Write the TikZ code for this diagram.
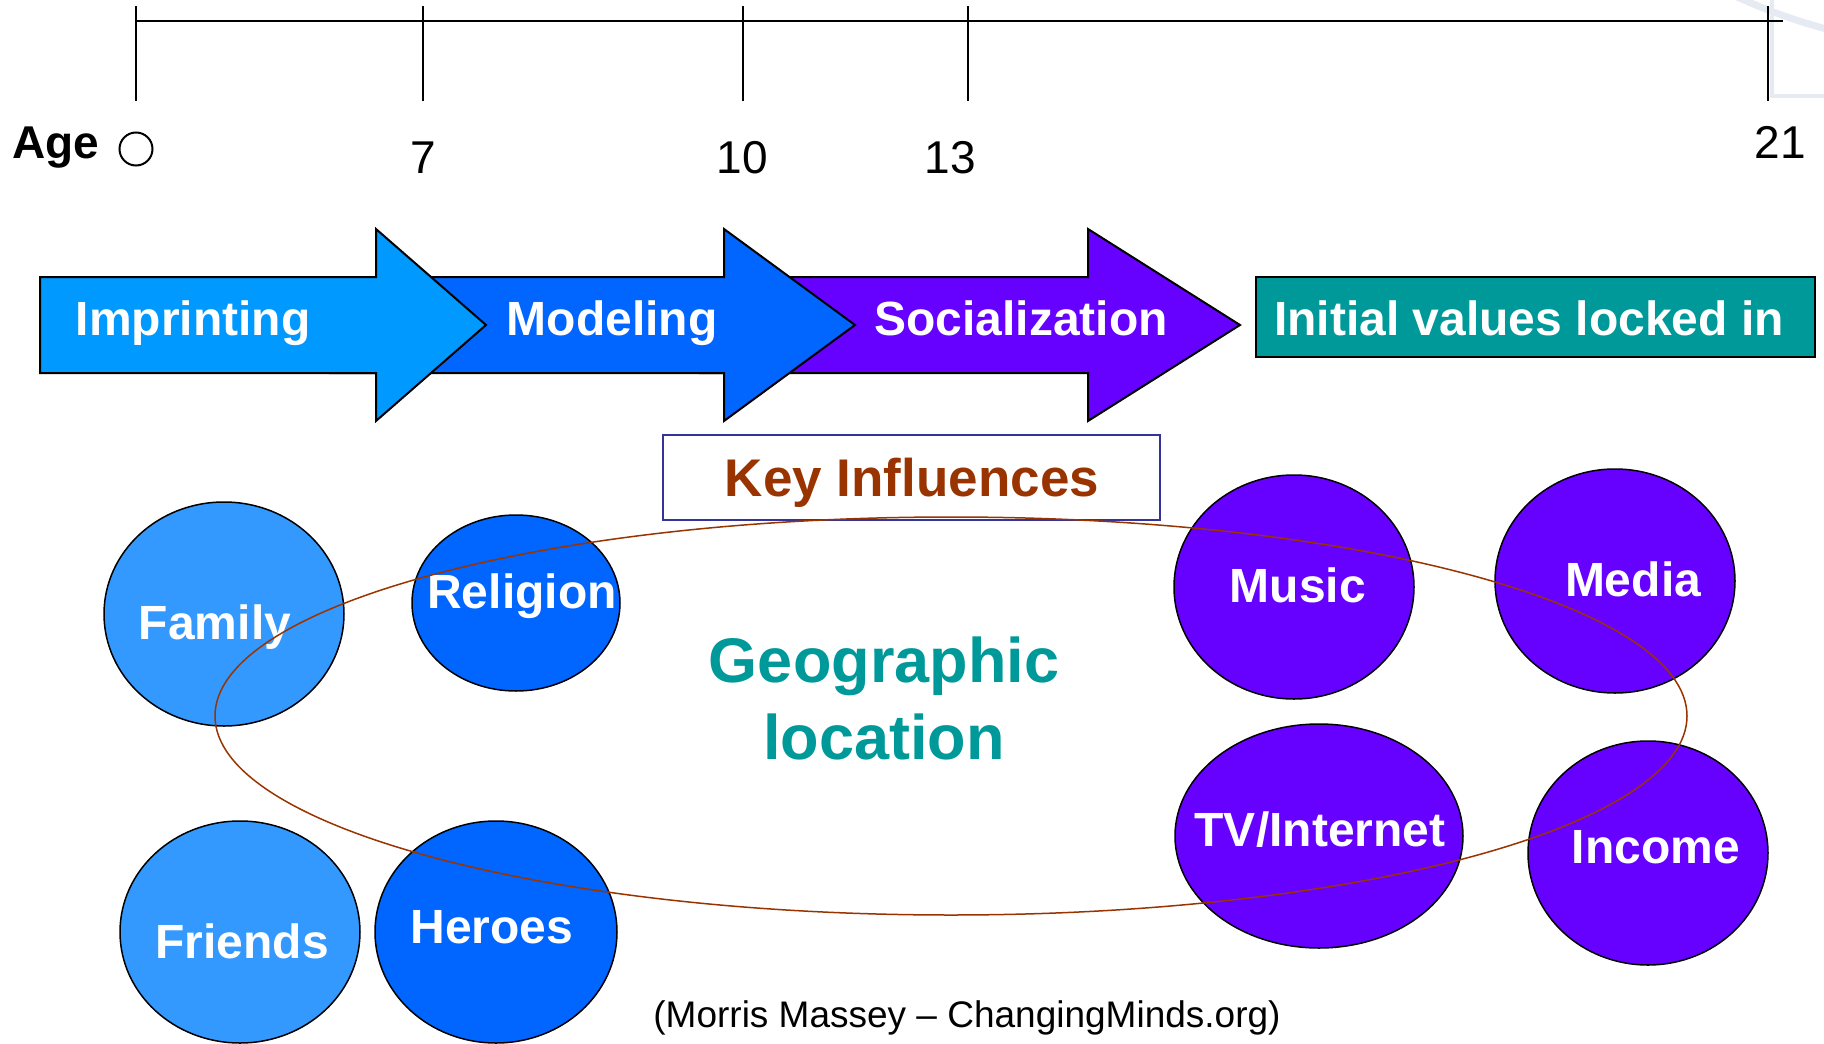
\documentclass[tikz,border=0pt]{standalone}
\usepackage{fontspec}
\setmainfont{Liberation Sans}
\definecolor{imprintblue}{HTML}{0099FF}
\definecolor{modelblue}{HTML}{0066FF}
\definecolor{socialviolet}{HTML}{6600FF}
\definecolor{lockteal}{HTML}{009999}
\definecolor{keybrown}{HTML}{993300}
\definecolor{keyframe}{HTML}{333399}
\definecolor{softblue}{HTML}{3399FF}
\definecolor{faintdeco}{HTML}{E6EAF3}
\begin{document}
\begin{tikzpicture}[x=1pt,y=-1pt,
  tick/.style={line width=2pt,black},
  stagearrow/.style={draw=black,line width=2pt,line join=miter},
  stagetext/.style={text=white,font=\fontsize{48}{56}\selectfont\bfseries,anchor=base,inner sep=0pt},
  bubble/.style={draw=black,line width=1.5pt},
  bubbletext/.style={text=white,font=\fontsize{48}{56}\selectfont\bfseries,anchor=base,inner sep=0pt},
  agetext/.style={font=\fontsize{46}{54}\selectfont,anchor=base,inner sep=0pt}]
\useasboundingbox (0,0) rectangle (1824,1044);
\clip (0,0) rectangle (1824,1044);

% faint template decoration in the upper right corner
\draw[faintdeco,line width=7pt] (1735,-4) .. controls (1770,12) and (1800,22) .. (1830,30);
\draw[faintdeco,line width=4pt] (1772,0) -- (1772,96) -- (1830,96);

% age timeline
\draw[tick] (136,21) -- (1783,21);
\foreach \tx in {136,423,743,968,1768}
  \draw[tick] (\tx,6) -- (\tx,101);
\node[agetext,font=\fontsize{46}{54}\selectfont\bfseries] (agelabel) at (56,158) {Age};
\draw[line width=2pt] (136,149) circle (16.5);
\node[agetext] (age7) at (423,173) {7};
\node[agetext] (age10) at (742,173) {10};
\node[agetext] (age13) at (950,173) {13};
\node[agetext] (age21) at (1780,158) {21};

% developmental stages as block arrows (later stages lie underneath)
\filldraw[stagearrow,fill=socialviolet]
  (700,277) -- (1088,277) -- (1088,229) -- (1240,325) -- (1088,421) -- (1088,373) -- (700,373) -- cycle;
\filldraw[stagearrow,fill=modelblue]
  (330,277) -- (724,277) -- (724,229) -- (855,325) -- (724,421) -- (724,373) -- (330,373) -- cycle;
\filldraw[stagearrow,fill=imprintblue]
  (40,277) -- (376,277) -- (376,229) -- (486,325) -- (376,421) -- (376,373) -- (40,373) -- cycle;
\filldraw[stagearrow,fill=lockteal] (1256,277) rectangle (1815,357);

\node[stagetext] (imprinting) at (193,335) {Imprinting};
\node[stagetext] (modeling) at (612,335) {Modeling};
\node[stagetext] (socialization) at (1021,335) {Socialization};
\node[stagetext] (lockedin) at (1529,335) {Initial values locked in};

% key influences heading
\draw[keyframe,line width=2pt] (663,435) rectangle (1160,520);
\node[text=keybrown,font=\fontsize{53}{60}\selectfont\bfseries,anchor=base,inner sep=0pt] (keyinf) at (912,496) {Key Influences};

% influence bubbles
\filldraw[bubble,fill=softblue] (224,614) ellipse [x radius=120,y radius=112];
\filldraw[bubble,fill=modelblue] (516,603) ellipse [x radius=104,y radius=88];
\filldraw[bubble,fill=softblue] (240,932) ellipse [x radius=120,y radius=111];
\filldraw[bubble,fill=modelblue] (496,932) ellipse [x radius=121,y radius=111];
\filldraw[bubble,fill=socialviolet] (1294,587) ellipse [x radius=120,y radius=112];
\filldraw[bubble,fill=socialviolet] (1615,581) ellipse [x radius=120,y radius=112];
\filldraw[bubble,fill=socialviolet] (1319,836) ellipse [x radius=144,y radius=112];
\filldraw[bubble,fill=socialviolet] (1648,853) ellipse [x radius=120,y radius=112];

\node[bubbletext] (family) at (215,639) {Family};
\node[bubbletext] (religion) at (522,608) {Religion};
\node[bubbletext] (friends) at (242,958) {Friends};
\node[bubbletext] (heroes) at (492,943) {Heroes};
\node[bubbletext] (music) at (1298,602) {Music};
\node[bubbletext] (media) at (1633,596) {Media};
\node[bubbletext] (tvnet) at (1320,846) {TV/Internet};
\node[bubbletext] (income) at (1656,863) {Income};

% geographic location ring
\draw[keybrown,line width=1.5pt] (951,716) ellipse [x radius=736,y radius=199];
\node[text=lockteal,font=\fontsize{63}{72}\selectfont\bfseries,anchor=base,inner sep=0pt] (geo1) at (884,682) {Geographic};
\node[text=lockteal,font=\fontsize{63}{72}\selectfont\bfseries,anchor=base,inner sep=0pt] (geo2) at (884,759) {location};

% source
\node[font=\fontsize{37}{44}\selectfont,anchor=base,inner sep=0pt] (source) at (967,1027) {(Morris Massey – ChangingMinds.org)};
\end{tikzpicture}
\end{document}
